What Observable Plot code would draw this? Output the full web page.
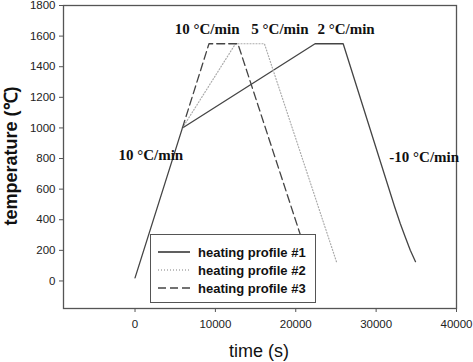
<!DOCTYPE html>
<html>
<head>
<meta charset="utf-8">
<script src="https://cdn.jsdelivr.net/npm/d3@7"></script>
<script src="https://cdn.jsdelivr.net/npm/@observablehq/plot@0.6"></script>
<style>
  html, body { margin: 0; padding: 0; background: #fff; }
  #wrap { position: relative; width: 473px; height: 362px; }
  #legend {
    position: absolute; left: 150px; top: 234px; width: 164px; height: 67px;
    border: 1.3px solid #555; background: #fff;
    font: bold 13px "Liberation Sans", Arial, sans-serif; color: #111;
  }
  #legend .row { position: absolute; left: 0; height: 16px; display: flex; align-items: center; }
  #legend svg { margin-left: 7px; margin-right: 8px; }
</style>
</head>
<body>
<div id="wrap"></div>
<script>
// ---- data ----
const p1Time = [0, 5900, 22400, 25900, 32300, 33000, 33600, 34250, 34900];
const p1Temp = [20, 1000, 1550, 1550, 485, 375, 290, 200, 126];
const p2Time = [5900, 12500, 16100, 25100];
const p2Temp = [1000, 1550, 1550, 120];
const p3Time = [5900, 9200, 12800, 21700];
const p3Temp = [1000, 1550, 1550, 120];

const rateLabels = ["10 °C/min", "10 °C/min", "5 °C/min", "2 °C/min", "-10 °C/min"];
const rateTime = [1960, 8970, 18030, 26260, 35980];
const rateTemp = [825, 1647, 1647, 1647, 812];

const xTicks = [0, 10000, 20000, 30000, 40000];
const yTicks = [0, 200, 400, 600, 800, 1000, 1200, 1400, 1600, 1800];
const seriesNames = ["heating profile #1", "heating profile #2", "heating profile #3"];

const toRows = (ts, vs) => ts.map((t, i) => ({t, v: vs[i]}));
const p1 = toRows(p1Time, p1Temp);
const p2 = toRows(p2Time, p2Temp);
const p3 = toRows(p3Time, p3Temp);
const rates = rateLabels.map((s, i) => ({s, t: rateTime[i], v: rateTemp[i]}));

const styles = [
  {stroke: "#444", dash: null, width: 1.3},
  {stroke: "#aaa", dash: "1,2", width: 1.2},
  {stroke: "#444", dash: "8,4", width: 1.3}
];

const chart = Plot.plot({
  width: 473,
  height: 362,
  marginLeft: 63,
  marginRight: 17,
  marginTop: 5,
  marginBottom: 54,
  style: {fontFamily: "'Liberation Sans', Arial, sans-serif", fontSize: "11.5px", color: "#222", background: "#fff"},
  x: {domain: [-8900, 40000]},
  y: {domain: [-180, 1800]},
  marks: [
    Plot.frame({stroke: "#555", strokeWidth: 1.3}),
    Plot.axisX({ticks: xTicks, tickSize: 4, tickPadding: 7, tickFormat: d => String(d), label: null, stroke: "#555"}),
    Plot.axisY({ticks: yTicks, tickSize: 4, tickPadding: 4, tickFormat: d => String(d), label: null, stroke: "#555"}),
    Plot.line(p1, {x: "t", y: "v", stroke: styles[0].stroke, strokeWidth: styles[0].width}),
    Plot.line(p2, {x: "t", y: "v", stroke: styles[1].stroke, strokeWidth: styles[1].width, strokeDasharray: styles[1].dash}),
    Plot.line(p3, {x: "t", y: "v", stroke: styles[2].stroke, strokeWidth: styles[2].width, strokeDasharray: styles[2].dash}),
    Plot.text(rates, {x: "t", y: "v", text: "s", fontFamily: "'Liberation Serif', 'Times New Roman', serif", fontWeight: "bold", fontSize: 15, fill: "#111"})
  ]
});

const wrap = document.getElementById("wrap");
wrap.appendChild(chart);

// axis titles
const svg = d3.select(chart);
svg.append("text")
  .attr("transform", "translate(12,156) rotate(-90)")
  .attr("text-anchor", "middle").attr("dominant-baseline", "middle")
  .style("font", "bold 18px 'Liberation Sans', Arial, sans-serif").attr("fill", "#111")
  .text("temperature (℃)");
svg.append("text")
  .attr("x", 259).attr("y", 352)
  .attr("text-anchor", "middle").attr("dominant-baseline", "middle")
  .style("font", "18px 'Liberation Sans', Arial, sans-serif").attr("fill", "#111")
  .text("time (s)");

// legend
const legend = document.createElement("div");
legend.id = "legend";
const rowTops = [9, 27, 45];
seriesNames.forEach((name, i) => {
  const row = document.createElement("div");
  row.className = "row";
  row.style.top = rowTops[i] + "px";
  const st = styles[i];
  row.innerHTML = `<svg width="32" height="4"><line x1="0" y1="2" x2="32" y2="2" stroke="${st.stroke}" stroke-width="${st.width + 0.4}" ${st.dash ? `stroke-dasharray="${st.dash}"` : ""}/></svg><span>${name}</span>`;
  legend.appendChild(row);
});
wrap.appendChild(legend);
</script>
</body>
</html>
